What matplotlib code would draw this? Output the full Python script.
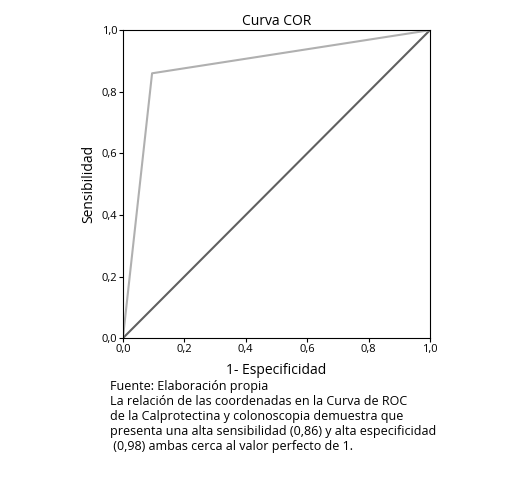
import matplotlib
matplotlib.use("Agg")
import matplotlib.pyplot as plt

fpr = [0.0, 0.095, 1.0]
tpr = [0.0, 0.86, 1.0]
diag = [0.0, 1.0]
ticks = [0.0, 0.2, 0.4, 0.6, 0.8, 1.0]
tick_labels = ["0,0", "0,2", "0,4", "0,6", "0,8", "1,0"]
caption = ["Fuente: Elaboración propia",
           "La relación de las coordenadas en la Curva de ROC",
           "de la Calprotectina y colonoscopia demuestra que",
           "presenta una alta sensibilidad (0,86) y alta especificidad",
           " (0,98) ambas cerca al valor perfecto de 1."]

plt.rcParams['font.family'] = ['Open Sans', 'DejaVu Sans']
fig = plt.figure(figsize=(5.1, 4.79), dpi=100)
ax = fig.add_axes([0.241, 0.294, 0.602, 0.643])
ax.plot(diag, diag, color="#606060", lw=1.5)
ax.plot(fpr, tpr, color="#b0b0b0", lw=1.5)
ax.set_xlim(0, 1); ax.set_ylim(0, 1)
ax.set_xticks(ticks); ax.set_xticklabels(tick_labels, fontsize=8)
ax.set_yticks(ticks); ax.set_yticklabels(tick_labels, fontsize=8)
ax.tick_params(length=3, width=0.8, pad=1)
for s in ax.spines.values():
    s.set_linewidth(0.8)
ax.set_title("Curva COR", fontsize=10, pad=4)
ax.set_xlabel("1- Especificidad", fontsize=10, labelpad=6)
ax.set_ylabel("Sensibilidad", fontsize=10, labelpad=4)
fig.text(110/510, 1-380/479, "\n".join(caption), fontsize=9, va="top", ha="left", linespacing=1.2)
fig.savefig("out.png", dpi=100)
